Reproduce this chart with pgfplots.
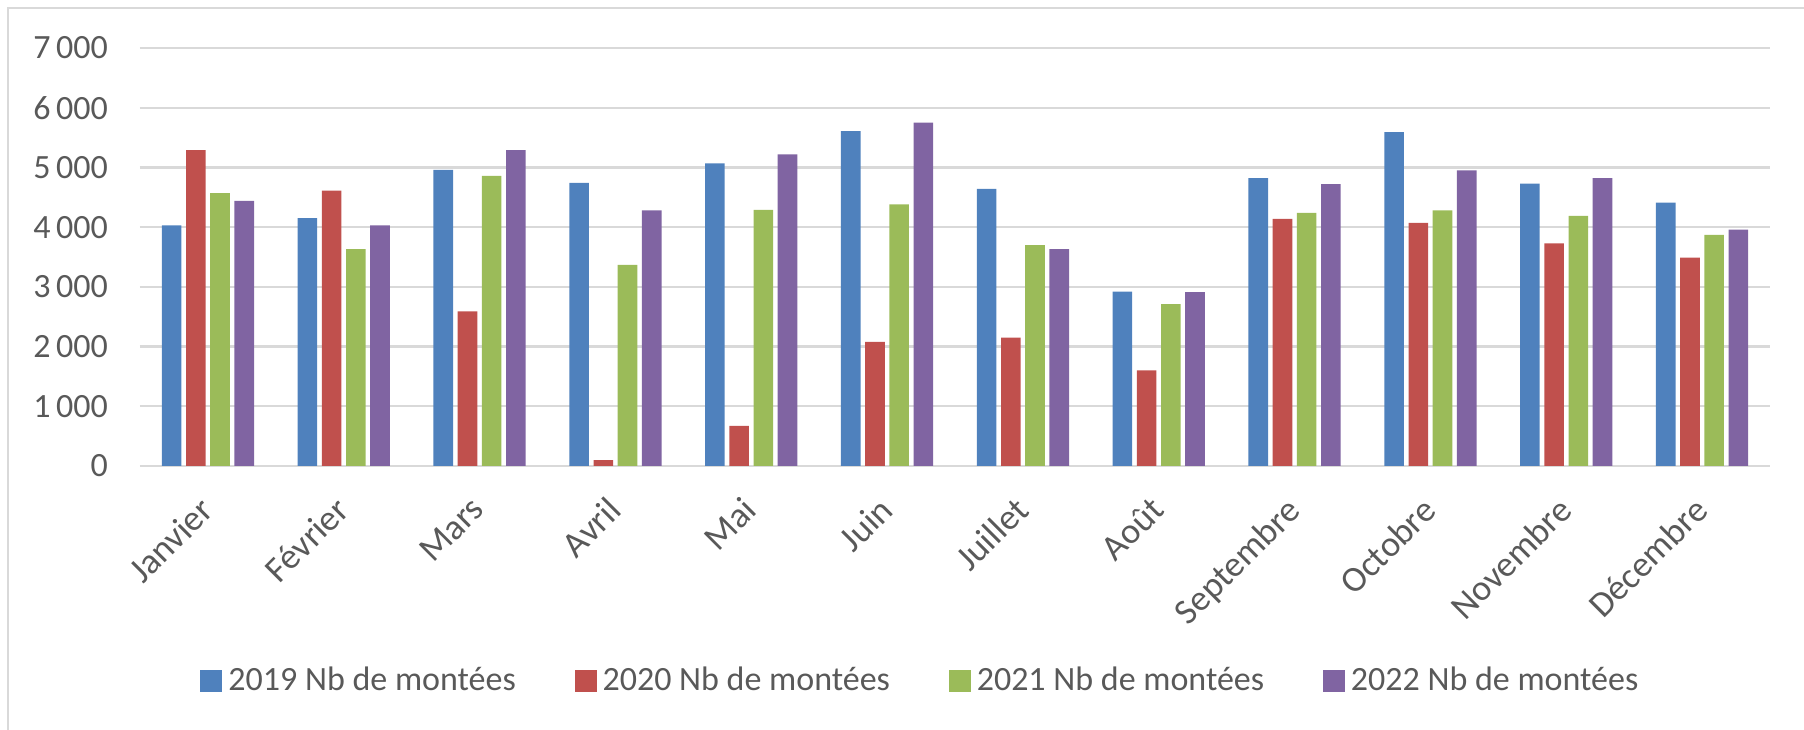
\documentclass[border=0pt]{standalone}
\usepackage{pgfplots}
\pgfplotsset{compat=1.18}
\usepackage{pgfplotstable}
\usepackage{fontspec}
\setmainfont{Carlito}
\definecolor{cA}{HTML}{4F81BD}
\definecolor{cB}{HTML}{C0504D}
\definecolor{cC}{HTML}{9BBB59}
\definecolor{cD}{HTML}{8064A2}
\definecolor{txt}{HTML}{595959}
\definecolor{grd}{HTML}{D9D9D9}
\pgfplotstableread{
x y2019 y2020 y2021 y2022
0 4030 5290 4570 4440
1 4150 4610 3630 4030
2 4960 2590 4860 5290
3 4740 100 3370 4280
4 5070 670 4290 5220
5 5610 2080 4380 5750
6 4640 2150 3700 3630
7 2920 1600 2710 2910
8 4820 4140 4240 4720
9 5590 4070 4280 4950
10 4730 3730 4190 4820
11 4410 3490 3870 3960
}\datatable
\begin{document}
\fontsize{8.5}{10.2}\selectfont
\begin{tikzpicture}
\path[use as bounding box] (0,0) rectangle (451pt,182.5pt);
\draw[grd, line width=0.5pt] (2pt,0) -- (2pt,180.5pt) -- (451pt,180.5pt);
\begin{axis}[
  at={(35pt,66pt)}, anchor=south west,
  scale only axis, width=407.5pt, height=104.5pt,
  xmin=-0.5, xmax=11.5, ymin=0, ymax=7000,
  ybar=1.15pt, bar width=4.9pt,
  axis line style={draw=none},
  major tick length=0pt,
  ytick={0,1000,...,7000},
  ymajorgrids, grid style={grd, line width=0.6pt},
  xtick=data,
  xticklabels={Janvier,Février,Mars,Avril,Mai,Juin,Juillet,Août,Septembre,Octobre,Novembre,Décembre},
  xticklabel style={font=\fontsize{9}{10.8}\selectfont, xshift=-2.5pt, yshift=-7pt, rotate=45, anchor=north east, inner sep=0pt, text=txt},
  yticklabel style={text=txt, xshift=-5pt},
  scaled y ticks=false,
  /pgf/number format/.cd, 1000 sep={\,}, assume math mode=true, /pgfplots/.cd,
  legend columns=4,
  legend style={draw=none, fill=none, at={(0.480,-0.514)}, anchor=center,
    text=txt, /tikz/every even column/.append style={column sep=13.2pt},
    nodes={inner sep=1.5pt}},
  legend image code/.code={\fill[#1] (0pt,-2.75pt) rectangle (5.5pt,2.75pt);},
]
\addplot[fill=cA, draw=none] table[x=x, y=y2019] {\datatable};
\addplot[fill=cB, draw=none] table[x=x, y=y2020] {\datatable};
\addplot[fill=cC, draw=none] table[x=x, y=y2021] {\datatable};
\addplot[fill=cD, draw=none] table[x=x, y=y2022] {\datatable};
\legend{2019 Nb de montées, 2020 Nb de montées, 2021 Nb de montées, 2022 Nb de montées}
\end{axis}
\end{tikzpicture}
\end{document}
